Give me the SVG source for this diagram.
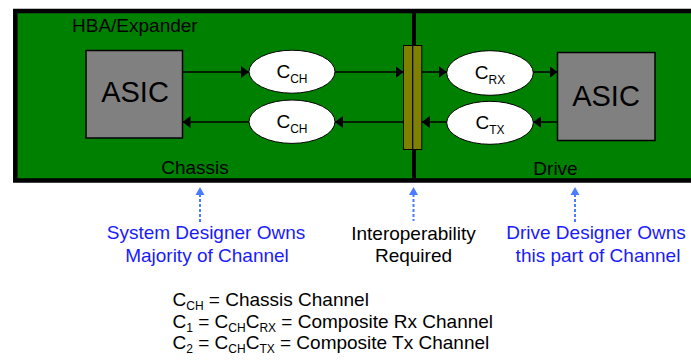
<svg xmlns="http://www.w3.org/2000/svg" width="691" height="364" viewBox="0 0 691 364">
<defs>
<style>
text{font-family:"Liberation Sans",Arial,sans-serif;fill:#000}
.lbl{font-size:19px}
.asic{font-size:29px;text-anchor:middle}
.mid{text-anchor:middle}
.blue{fill:#1a1aff}
.sub{font-size:12px}
.box{fill:#808080;stroke:#000;stroke-width:1.5}
.ell{fill:#fff;stroke:#000;stroke-width:1}
.wire{stroke:#000;stroke-width:1.5;fill:none;marker-end:url(#ah)}
.dash{stroke:#4a7cff;stroke-width:2;stroke-dasharray:3 2;fill:none}
.dhead{fill:#4a7cff}
</style>
<marker id="ah" markerUnits="userSpaceOnUse" markerWidth="9" markerHeight="13" refX="8" refY="6" orient="auto">
<path d="M0,0 L8,6 L0,12 z" fill="#000"/>
</marker>
</defs>
<rect x="0" y="0" width="691" height="364" fill="#fff"/>
<g id="board">
<rect x="15.3" y="11" width="690" height="169.5" fill="#008000" stroke="#000" stroke-width="4.5"/>
<line x1="414" y1="11" x2="414" y2="180.5" stroke="#000" stroke-width="4"/>
<text class="lbl" x="72" y="32">HBA/Expander</text>
<text class="lbl mid" x="195" y="174">Chassis</text>
<text class="lbl mid" x="555.5" y="175">Drive</text>
</g>
<g id="asic-left">
<rect class="box" x="86" y="50.5" width="96.5" height="87.5"/>
<text class="asic" x="135" y="102">ASIC</text>
</g>
<g id="asic-right">
<rect class="box" x="557.5" y="52.5" width="97.5" height="88"/>
<text class="asic" x="606" y="106">ASIC</text>
</g>
<g id="connector">
<rect x="403.5" y="45.5" width="9.3" height="104" fill="#808000" stroke="#000" stroke-width="1"/>
<rect x="412.8" y="45.5" width="9" height="104" fill="#808000" stroke="#000" stroke-width="1"/>
</g>
<g id="cch-top">
<ellipse class="ell" cx="292" cy="71.7" rx="43" ry="21.5"/>
<text class="lbl mid" x="292" y="77.5">C<tspan class="sub" dy="5">CH</tspan></text>
</g>
<g id="cch-bottom">
<ellipse class="ell" cx="292" cy="121.7" rx="43" ry="21.7"/>
<text class="lbl mid" x="292" y="128">C<tspan class="sub" dy="5">CH</tspan></text>
</g>
<g id="crx">
<ellipse class="ell" cx="490" cy="73" rx="43.3" ry="22.3"/>
<text class="lbl mid" x="490" y="79">C<tspan class="sub" dy="5">RX</tspan></text>
</g>
<g id="ctx">
<ellipse class="ell" cx="490" cy="122.8" rx="43.3" ry="21.5"/>
<text class="lbl mid" x="490" y="129">C<tspan class="sub" dy="5">TX</tspan></text>
</g>
<g id="connectors">
<line class="wire" x1="182.5" y1="72" x2="249" y2="72"/>
<line class="wire" x1="335" y1="72" x2="403.5" y2="72"/>
<line class="wire" x1="421.8" y1="72" x2="446.7" y2="72"/>
<line class="wire" x1="533.3" y1="72" x2="557.5" y2="72"/>
<line class="wire" x1="557.5" y1="122" x2="533.3" y2="122"/>
<line class="wire" x1="446.7" y1="122" x2="421.8" y2="122"/>
<line class="wire" x1="403.5" y1="122" x2="335" y2="122"/>
<line class="wire" x1="249" y1="122" x2="182.5" y2="122"/>
<line class="dash" x1="200" y1="194" x2="200" y2="223"/>
<path class="dhead" d="M200,187 L204.5,195 L195.5,195 z"/>
<line class="dash" x1="413.5" y1="194" x2="413.5" y2="221"/>
<path class="dhead" d="M413.5,187 L418,195 L409,195 z"/>
<line class="dash" x1="575" y1="194" x2="575" y2="223"/>
<path class="dhead" d="M575,187 L579.5,195 L570.5,195 z"/>
</g>
<g id="labels">
<text class="lbl mid blue" x="206" y="239">System Designer Owns</text>
<text class="lbl mid blue" x="207" y="262">Majority of Channel</text>
<text class="lbl mid" x="413.5" y="240">Interoperability</text>
<text class="lbl mid" x="413.5" y="262">Required</text>
<text class="lbl mid blue" x="596" y="239">Drive Designer Owns</text>
<text class="lbl mid blue" x="598" y="262">this part of Channel</text>
</g>
<g id="legend">
<text class="lbl" x="172.5" y="305.5">C<tspan class="sub" dy="4">CH</tspan><tspan dy="-4"> = Chassis Channel</tspan></text>
<text class="lbl" x="172.5" y="327.5">C<tspan class="sub" dy="4">1</tspan><tspan dy="-4"> = C</tspan><tspan class="sub" dy="4">CH</tspan><tspan dy="-4">C</tspan><tspan class="sub" dy="4">RX</tspan><tspan dy="-4"> = Composite Rx Channel</tspan></text>
<text class="lbl" x="172.5" y="349">C<tspan class="sub" dy="4">2</tspan><tspan dy="-4"> = C</tspan><tspan class="sub" dy="4">CH</tspan><tspan dy="-4">C</tspan><tspan class="sub" dy="4">TX</tspan><tspan dy="-4"> = Composite Tx Channel</tspan></text>
</g>
</svg>
